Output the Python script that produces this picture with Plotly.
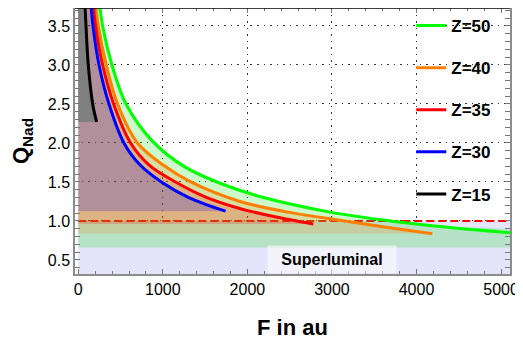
import plotly.graph_objects as go

# ---- data ----
z50_F = [230, 288, 398, 564, 880, 1250, 1685, 2192, 2995, 3692, 4274, 5200]
z50_Q = [3.98, 3.5, 3.0, 2.5, 2.02, 1.70, 1.48, 1.30, 1.11, 1.0, 0.93, 0.84]
z40_F = [185, 237, 331, 465, 700, 1000, 1330, 1913, 2500, 3150, 3600, 4188]
z40_Q = [3.98, 3.5, 3.0, 2.5, 2.0, 1.72, 1.5, 1.25, 1.11, 1.0, 0.925, 0.835]
z35_F = [160, 205, 288, 418, 619, 835, 1150, 1500, 1910, 2300, 2779]
z35_Q = [3.98, 3.5, 3.0, 2.5, 2.0, 1.72, 1.5, 1.31, 1.16, 1.06, 0.96]
z30_F = [135, 174, 245, 363, 540, 729, 983, 1307, 1742]
z30_Q = [3.98, 3.5, 3.0, 2.5, 2.0, 1.72, 1.5, 1.30, 1.126]
z15_F = [73, 91, 118, 170, 217]
z15_Q = [3.9, 3.5, 3.0, 2.5, 2.27]

series_names = ["Z=50", "Z=40", "Z=35", "Z=30", "Z=15"]
superluminal_level = 1.0
green_fill_floor = 0.66
label_text = "Superluminal"
label_F = 3000
label_Q = 0.51

x_ticks = [0, 1000, 2000, 3000, 4000, 5000]
x_grid = [1000, 2000, 3000, 4000]
y_ticks = [0.5, 1.0, 1.5, 2.0, 2.5, 3.0, 3.5]
y_tick_text = ["0.5", "1.0", "1.5", "2.0", "2.5", "3.0", "3.5"]

series = [
    (z50_F, z50_Q, "#00ff00", "rgba(0,220,0,0.2)"),
    (z40_F, z40_Q, "#ff8000", "rgba(255,128,0,0.2)"),
    (z35_F, z35_Q, "#ff0000", "rgba(255,0,0,0.2)"),
    (z30_F, z30_Q, "#0000ff", "rgba(0,0,255,0.2)"),
    (z15_F, z15_Q, "#000000", "#808080"),
]

FONT = "Liberation Sans, Arial, sans-serif"

fig = go.Figure()

# superluminal band
x_end = z50_F[-1]
fig.add_trace(go.Scatter(x=[0, x_end], y=[superluminal_level, superluminal_level],
                         mode="lines", line=dict(width=0), fill="tozeroy",
                         fillcolor="#e4e4fa", showlegend=False, hoverinfo="skip"))
# dashed line Q=1
fig.add_trace(go.Scatter(x=[0, x_end], y=[superluminal_level, superluminal_level],
                         mode="lines", line=dict(color="#ff0000", width=2, dash="8px,4px"),
                         showlegend=False, hoverinfo="skip"))

# fills
for i, (F, Q, lc, fc) in enumerate(series):
    fx, fy = list(F), list(Q)
    if i == 0:
        fx = fx + [F[-1]]
        fy = fy + [green_fill_floor]
    fig.add_trace(go.Scatter(x=fx, y=fy, mode="lines", line=dict(width=0, shape="spline"),
                             fill="tozerox", fillcolor=fc, showlegend=False, hoverinfo="skip"))

# curves
for i, (F, Q, lc, fc) in enumerate(series):
    fig.add_trace(go.Scatter(x=F, y=Q, mode="lines", name=series_names[i],
                             legendgroup=series_names[i],
                             line=dict(color=lc, width=3, shape="spline")))

fig.add_annotation(x=label_F, y=label_Q, text="<b>" + label_text + "</b>", showarrow=False,
                   font=dict(family=FONT, size=16, color="black"),
                   bgcolor="rgba(255,255,255,0.55)", borderpad=5, width=118)

axis_common = dict(showline=True, linecolor="#8c8c8c", linewidth=1.5, mirror="allticks",
                   ticks="inside", ticklen=5, tickcolor="#777", tickwidth=1,
                   zeroline=False, automargin=False,
                   tickfont=dict(family=FONT, size=16, color="black"))

GRID_DASH = "1.5px,5px"

fig.update_layout(
    width=515, height=338,
    margin=dict(l=67, r=13, t=0, b=72, autoexpand=False),
    paper_bgcolor="white", plot_bgcolor="white",
    showlegend=True,
    legend=dict(x=0.773, y=1.0, xanchor="left", yanchor="top",
                bgcolor="rgba(0,0,0,0)", tracegroupgap=17, itemwidth=30,
                font=dict(family=FONT, size=17, color="black", weight="bold")),
    xaxis=dict(range=[-39, 5106], tickvals=x_ticks, showgrid=False,
               minor=dict(dtick=200, ticklen=3, ticks="inside", tickcolor="#777"),
               title=dict(text="<b>F in au</b>", standoff=23,
                          font=dict(family=FONT, size=22, color="black")),
               **axis_common),
    xaxis2=dict(range=[-39, 5106], overlaying="x", tickvals=x_grid, showgrid=True,
                gridcolor="#333", griddash=GRID_DASH, gridwidth=1.2, showticklabels=False,
                ticks="", showline=False, zeroline=False),
    yaxis=dict(range=[0.32, 3.73], tickvals=y_ticks, ticktext=y_tick_text, showgrid=True,
               gridcolor="#333", griddash=GRID_DASH, gridwidth=1.2,
               minor=dict(dtick=0.1, ticklen=3, ticks="inside", tickcolor="#777"),
               title=dict(text="<b>Q<sub>Nad</sub></b>", standoff=21,
                          font=dict(family=FONT, size=22, color="black")),
               **axis_common),
)
# invisible trace so the grid-only overlay axis is drawn
fig.add_trace(go.Scatter(x=[x_grid[0]], y=[y_ticks[0]], xaxis="x2", mode="markers",
                         marker=dict(opacity=0), showlegend=False, hoverinfo="skip"))

fig.add_shape(type="line", xref="paper", yref="paper", x0=0, x1=1, y0=1, y1=1,
              line=dict(color="black", width=1.5))

fig.write_html("out.html")
